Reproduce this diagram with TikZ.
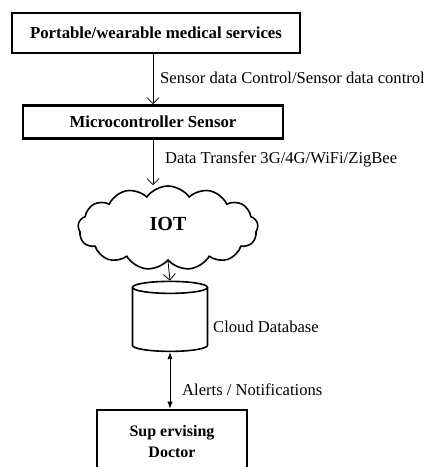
\documentclass[tikz,border=0pt]{standalone}
\usepackage{fontspec}
\setmainfont{Liberation Serif}
\usetikzlibrary{shapes.symbols, shapes.geometric, arrows.meta}

\tikzset{
    blockbox/.style={draw, line width=2.6pt, rectangle, font=\fontsize{16.8}{21}\selectfont\bfseries, align=center},
    linklabel/.style={anchor=west, font=\fontsize{16.6}{19}\selectfont, inner sep=0pt},
    flow/.style={-{Straight Barb[length=6pt, width=12pt]}, line width=0.8pt}
}

\begin{document}
\begin{tikzpicture}[x=1pt, y=-1pt]
        \useasboundingbox (0,0) rectangle (436,467);
        % Khối trên cùng
        \node[blockbox, minimum width=288, minimum height=40] (wear) at (156,33) {Portable/wearable medical\ services};
        \node[blockbox, minimum width=260, minimum height=33] (micro) at (153,122) {Microcontroller\ Sensor};
        
        % Đám mây IOT
        \node[cloud, draw, line width=1.6pt, cloud puffs=13, cloud puff arc=110, aspect=2.2,
              minimum width=180, minimum height=84, font=\fontsize{20}{22}\selectfont\bfseries] (iot) at (168,228) {\raisebox{8pt}{IOT}\hspace{14pt}};
        
        % Cơ sở dữ liệu
        \node[cylinder, draw, line width=1.6pt, shape border rotate=90, aspect=1.8,
              minimum width=75, minimum height=70] (db) at (170,321) {};
        \node[linklabel] (dblabel) at (213,327) {Cloud Database};
        
        % Khối bác sĩ
        \node[blockbox, minimum width=150, minimum height=64, font=\fontsize{16}{21}\selectfont\bfseries] (doc) at (172,442) {Sup ervising\\Doctor};
        
        % Mũi tên nối
        \draw[flow] (micro.north |- wear.south) -- (micro.north);
        \node[linklabel] (lab1) at (160,78) {Sensor\ data Control/Sensor\ data control};
        \draw[flow] (micro.south) -- (micro.south |- iot.north);
        \node[linklabel] (lab2) at (165,159) {Data Transfer 3G/4G/WiFi/ZigBee};
        \draw[flow] (iot.south) -- (db.north);
        \draw[{Latex[length=7pt]}-{Latex[length=7pt]}, line width=0.8pt] (db.south) -- (db.south |- doc.north);
        \node[linklabel] (lab3) at (182,390) {Alerts / Notifications};
    \end{tikzpicture}
\end{document}
